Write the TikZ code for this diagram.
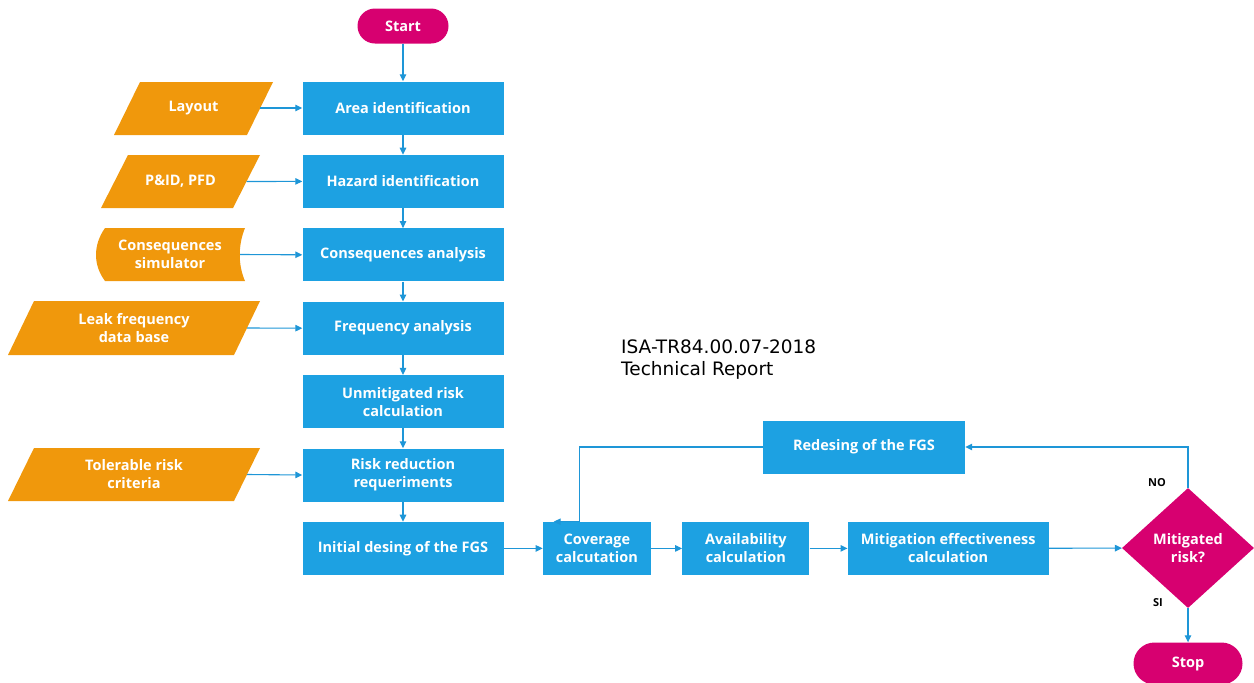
\documentclass[tikz,border=0pt]{standalone}
\usepackage{fontspec}
\setmainfont{Open Sans}
\newfontfamily\reportfont{DejaVu Sans}
\usetikzlibrary{calc, arrows.meta, positioning, shapes.geometric}
\definecolor{boxblue}{RGB}{29,161,226}
\definecolor{inorange}{RGB}{240,152,12}
\definecolor{termpink}{RGB}{215,0,112}
\definecolor{linkblue}{RGB}{30,150,215}

\begin{document}
\begin{tikzpicture}[x=1pt, y=-1pt, >={Triangle[length=7pt, width=6.5pt]},
  every node/.style={inner sep=0pt, align=center, text=white, font=\bfseries\fontsize{14.5}{18}\selectfont},
  procbox/.style={rectangle, fill=boxblue, minimum width=201pt, minimum height=53pt},
  inbox/.style={rectangle, minimum height=53pt},
  term/.style={rectangle, fill=termpink, minimum width=91pt},
  flow/.style={->, draw=linkblue, line width=1.1pt}]
\useasboundingbox (0,0) rectangle (1254,683);

% main column
\node (start) [term, rounded corners=17.5pt, minimum height=35pt] at (403,26) {Start};
\node (area) [procbox] at (403,108) {Area identification};
\node (hazard) [procbox, below=20pt of area] {Hazard identification};
\node (conseq) [procbox, below=20pt of hazard] {Consequences analysis};
\node (freq) [procbox, below=20pt of conseq] {Frequency analysis};
\node (unmit) [procbox, below=20pt of freq] {Unmitigated risk\\calculation};
\node (riskred) [procbox, below=20pt of unmit] {Risk reduction\\requeriments};
\node (initial) [procbox, below=20pt of riskred] {Initial desing of the FGS};

% inputs
\fill[inorange] (114,135) -- (140,82) -- (273,82) -- (247,135) -- cycle;
\node (layout) [inbox, minimum width=133pt] at (193.5,108) {Layout};
\fill[inorange] (101,208) -- (128,155) -- (260,155) -- (233,208) -- cycle;
\node (pid) [inbox, minimum width=132pt] at (180.5,181.5) {P\&ID, PFD};
\fill[inorange] (105,228) -- (245,228) .. controls (238,245) and (238,265) .. (245,281)
  -- (105,281) .. controls (93,265) and (93,245) .. (105,228) -- cycle;
\node (sim) [inbox, minimum width=140pt] at (170,254.5) {Consequences\\simulator};
\fill[inorange] (8,355) -- (34,301) -- (260,301) -- (234,355) -- cycle;
\node (leak) [inbox, minimum width=226pt] at (134,328) {Leak frequency\\data base};
\fill[inorange] (8,501) -- (34,448) -- (260,448) -- (234,501) -- cycle;
\node (toler) [inbox, minimum width=226pt] at (134,474.5) {Tolerable risk\\criteria};

% evaluation row
\node (cov) [procbox, minimum width=108pt, right=39pt of initial] {Coverage\\calcutation};
\node (avail) [procbox, minimum width=127pt, right=31pt of cov] {Availability\\calculation};
\node (mitig) [procbox, right=38pt of avail] {Mitigation effectiveness\\calculation};
\node (dec) [diamond, fill=termpink, minimum width=132pt, minimum height=120pt] at (1188,548) {Mitigated\\risk?};
\node (stop) [term, rounded corners=21pt, minimum width=109pt, minimum height=42pt] at (1188,663.5) {Stop};
\node (redes) [procbox, minimum width=202pt] at (864,447) {Redesing of the FGS};

\node (nolbl) [text=black, font=\bfseries\fontsize{11}{12}\selectfont] at (1157,483) {NO};
\node (silbl) [text=black, font=\bfseries\fontsize{11}{12}\selectfont] at (1158,603) {SI};
\node (report) [anchor=north west, align=left, text=black, font=\reportfont\fontsize{18.5}{22}\selectfont] at (621,340) {ISA-TR84.00.07-2018\\Technical Report};

\coordinate (bend) at ($(cov.north)+(-17,0)$);
\coordinate (back) at ($(cov.north west)+(11,0)$);

\draw[flow] (start) -- (area);
\draw[flow] (area) -- (hazard);
\draw[flow] (hazard) -- (conseq);
\draw[flow] (conseq) -- (freq);
\draw[flow] (freq) -- (unmit);
\draw[flow] (unmit) -- (riskred);
\draw[flow] (riskred) -- (initial);

\draw[flow] (layout.east) -- (area.west);
\draw[flow] (pid.east) -- (hazard.west);
\draw[flow] (sim.east) -- (conseq.west);
\draw[flow] (leak.east) -- (freq.west);
\draw[flow] (toler.east) -- (riskred.west);

\draw[flow] (initial) -- (cov);
\draw[flow] (cov) -- (avail);
\draw[flow] (avail) -- (mitig);
\draw[flow] (mitig) -- (dec);
\draw[flow] (dec) -- (stop);
\draw[flow] (dec.north) |- (redes.east);
\draw[flow] (redes.west) -| (bend) -- (back);
\end{tikzpicture}
\end{document}
